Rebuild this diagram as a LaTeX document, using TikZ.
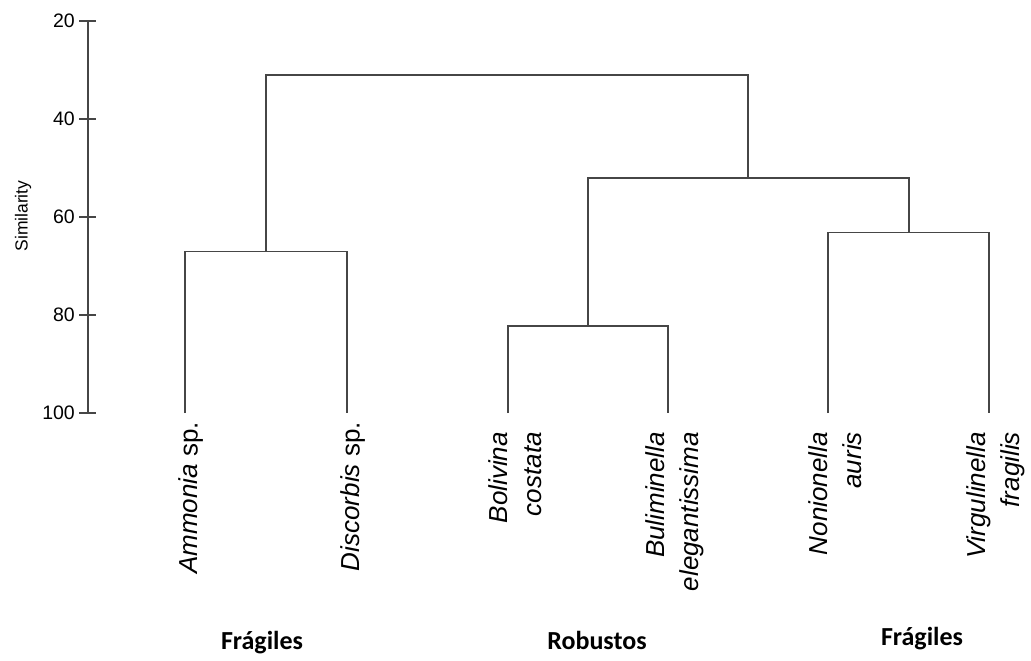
\documentclass[tikz,border=0pt]{standalone}
\usepackage{fontspec}
\setmainfont{Liberation Sans}
\newfontfamily\grpfont{Carlito}
\usetikzlibrary{positioning}

\begin{document}
\begin{tikzpicture}[x=1pt,y=-1pt]
\tikzstyle{line} = [draw, line width=1.1pt, color={rgb,255:red,70;green,70;blue,70}]
\tikzstyle{taxon} = [rotate=90, anchor=east, align=right, inner sep=0pt,
    font=\fontsize{26}{34}\selectfont\itshape]
\tikzstyle{tick} = [anchor=east, inner sep=0pt, font=\fontsize{19.5}{22}\selectfont]
\tikzstyle{group} = [anchor=base, font=\grpfont\bfseries\fontsize{26}{30}\selectfont]

\useasboundingbox (0,0) rectangle (1031,661);

% axis
\coordinate (ytop) at (88,21);
\coordinate (ybot) at (88,413);
\path [line] (ytop) -- (ybot);
\foreach \v in {20,40,60,80,100} {
  \coordinate (t\v) at (88,{21+(\v-20)*4.9});
  \path [line] ([xshift=-9pt]t\v) -- ([xshift=8pt]t\v);
  \node [tick] (l\v) at ([xshift=-13pt]t\v) {\v};
}
\node [rotate=90, font=\fontsize{17.5}{20}\selectfont] (ylab) at (23,216) {Similarity};

% leaves
\coordinate (amm) at (185,413);
\coordinate (dis) at (347,413);
\coordinate (bol) at (508,413);
\coordinate (bul) at (668,413);
\coordinate (non) at (828,413);
\coordinate (vir) at (989,413);

\node [taxon] (amml) at (191,422) {Ammonia \upshape sp.};
\node [taxon] (disl) at (353,422) {Discorbis \upshape sp.};
\node [taxon] (boll) at (515,432) {Bolivina\\costata};
\node [taxon] (bull) at (675,432) {Buliminella\\elegantissima};
\node [taxon] (nonl) at (835,432) {Nonionella\\auris};
\node [taxon] (virl) at (996,432) {Virgulinella\\fragilis};

% merges
\coordinate (ad) at (266,251.5);
\coordinate (bb) at (588,326);
\coordinate (nv) at (909,232.5);
\coordinate (bbnv) at (748,178);
\coordinate (all) at (507,75);

\path [line] (amm) |- (ad) -| (dis);
\path [line] (bol) |- (bb) -| (bul);
\path [line] (non) |- (nv) -| (vir);
\path [line] (bb) |- (bbnv) -| (nv);
\path [line] (ad) |- (all) -| (bbnv);

% groups
\node [group] (frag1) at (262,649) {Frágiles};
\node [group] (rob) at (597,649) {Robustos};
\node [group] (frag2) at (922,645) {Frágiles};

\end{tikzpicture}
\end{document}
